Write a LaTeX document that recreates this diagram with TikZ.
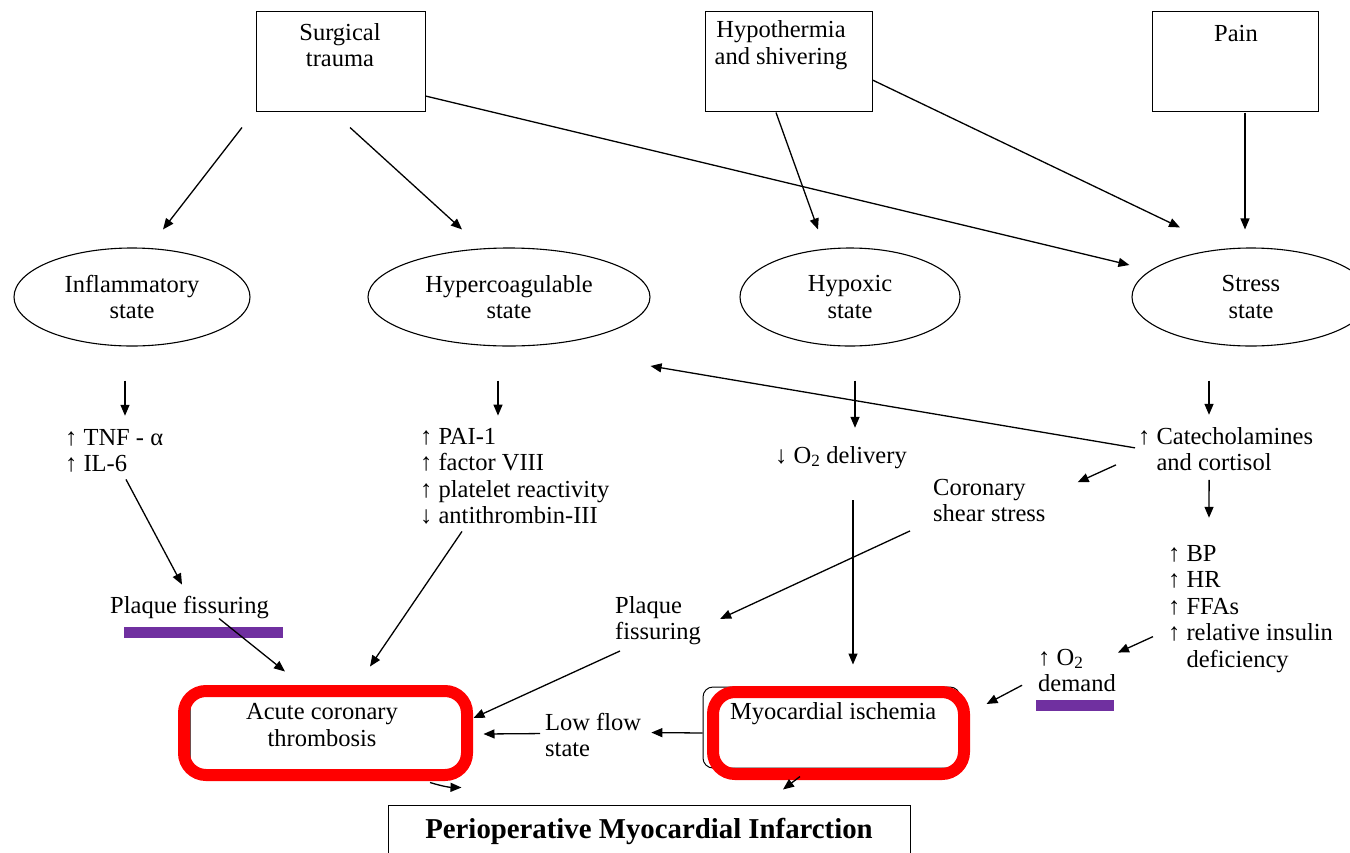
\documentclass[tikz,border=0pt]{standalone}
\usepackage{fontspec}
\setmainfont{Liberation Serif}
\usetikzlibrary{arrows.meta,shapes.geometric,calc}
\definecolor{hlred}{HTML}{FF0000}
\definecolor{hlpurple}{HTML}{7030A0}
\begin{document}
\begin{tikzpicture}[x=1pt,y=-1pt,
  every node/.style={font=\fontsize{24.5}{26.5}\selectfont, inner sep=0pt},
  arr/.style={-{Triangle[length=11pt,width=9pt]}, line width=1.3pt},
  topbox/.style={draw, line width=1pt, minimum height=100pt},
  state/.style={ellipse, draw, line width=1.1pt, minimum height=98pt, align=center},
  lst/.style={anchor=base west, align=left},
  ctr/.style={align=center},
  thinbox/.style={draw, line width=1pt, rounded corners=10pt},
  redbox/.style={draw=hlred, line width=12pt, rounded corners=22pt},
  bar/.style={fill=hlpurple, draw=none}
  ]
\useasboundingbox (0,0) rectangle (1350,852);

% top boxes
\node[topbox, minimum width=169pt] (st) at (340.5,61) {};
\node[ctr] (stt) at (340,45) {Surgical\\trauma};
\node[topbox, minimum width=167pt] (hyp) at (788.5,61) {};
\node[ctr] (hypt) at (781,45) {Hypothermia\\and shivering};
\node[topbox, minimum width=166pt] (pain) at (1235,61) {};
\node (paint) at (1236,34) {Pain};

% states
\node[state, minimum width=236pt] (inf) at (132,297) {Inflammatory\\state};
\node[state, minimum width=282pt] (hc) at (509,297) {Hypercoagulable\\state};
\node[state, minimum width=220pt] (hx) at (850,297) {Hypoxic\\state};
\node[state, minimum width=238pt] (ss) at (1251,297) {Stress\\state};

% texts (base = baseline of last line)
\node[lst] (tnf) at (65,471.5) {↑ TNF - α\\↑ IL-6};
\node[lst] (pai) at (420,523.5) {↑ PAI-1\\↑ factor VIII\\↑ platelet reactivity\\↓ antithrombin-III};
\node[lst] (o2d) at (775,463) {↓ O\textsubscript{2} delivery};
\node[lst] (cat) at (1138,470.5) {↑ Catecholamines\\\hphantom{↑ }and cortisol};
\node[lst] (css) at (933,521.5) {Coronary\\shear stress};
\node[lst] (bp) at (1168,667) {↑ BP\\↑ HR\\↑ FFAs\\↑ relative insulin\\\hphantom{↑ }deficiency};
\node[lst] (o2m) at (1038,691.5) {↑ O\textsubscript{2}\\demand};
\node[lst] (pf1) at (110,613) {Plaque fissuring};
\node[lst] (pf2) at (615,639.5) {Plaque\\fissuring};
\node[lst] (lf) at (545,756.5) {Low flow\\state};

% purple bars
\fill[bar] (124,627) rectangle (283,638);
\fill[bar] (1036,700) rectangle (1114,711);

% outcome boxes
\node[thinbox, minimum width=272pt, minimum height=75pt] (acb) at (326,732.5) {};
\node[thinbox, minimum width=257pt, minimum height=81pt] (mi) at (831.5,727.5) {};
\draw[redbox] (184,691) rectangle (467,775);
\draw[redbox] (713,692) rectangle (964,774);
\node[ctr] (acbt) at (322,725) {Acute coronary\\thrombosis};
\node[lst] (mit) at (730,719) {Myocardial ischemia};

\node[draw, line width=1pt, minimum width=522pt, minimum height=52pt,
      font=\fontsize{28.8}{32}\selectfont\bfseries] (pmi) at (649,831) {Perioperative Myocardial Infarction};

% arrows from top boxes
\draw[arr] ($(st.south)+(-98.5,16)$) -- ($(inf.north)+(31,-18)$);
\draw[arr] ($(st.south)+(9.5,16)$) -- ($(hc.north)+(-47,-18)$);
\draw[arr] ($(st.east)+(0,35)$) -- ($(ss.west)+(-2,-32)$);
\draw[arr] ($(hyp.south)+(-12.5,1)$) -- ($(hx.north)+(-32,-18)$);
\draw[arr] ($(hyp.east)+(0,19)$) -- ($(ss.north)+(-71,-20)$);
\draw[arr] ($(pain.south)+(10,1)$) -- ($(ss.north)+(-6,-18)$);

% down arrows from states
\draw[arr] ($(inf.south)+(-7,34)$) -- ($(tnf.north west)+(60,-13)$);
\draw[arr] ($(hc.south)+(-11,34)$) -- ($(pai.north west)+(78,-12)$);
\draw[arr] ($(hx.south)+(5,34)$) -- ($(o2d.north west)+(80,-18)$);
\draw[arr] ($(ss.south)+(-42,34)$) -- ($(cat.north west)+(71,-12)$);

% stress branch
\draw[arr] ($(cat.west)+(-3,-1)$) -- ($(hc.east)+(0,69)$);
\draw[arr] ($(cat.west)+(-22,16)$) -- ($(css.east)+(32,-18)$);
\draw[arr] ($(cat.south)+(-16.5,9)$) -- ($(bp.north west)+(41,-27)$);
\draw[arr] ($(bp.west)+(-15,28)$) -- ($(o2m.north east)+(2,4)$);
\draw[arr] ($(o2m.west)+(-16,15)$) -- ($(mi.east)+(26,-23.5)$);

% left branches
\draw[arr] ($(tnf.south west)+(61,7)$) -- ($(pf1.north west)+(72,-11)$);
\draw[arr] ($(pf1.south west)+(109,0)$) -- ($(acb.north)+(-41,-23)$);
\draw[arr] ($(pai.south west)+(42,7)$) -- ($(acb.north)+(44,-28)$);
\draw[arr] ($(css.south west)+(-23,9)$) -- ($(pf2.east)+(19,-1.5)$);
\draw[arr] ($(pf2.south west)+(5,6)$) -- ($(acb.east)+(11,-14.5)$);
\draw[arr] ($(o2d.south west)+(78,32)$) -- ($(mi.north)+(21.5,-22)$);
\draw[arr] ($(lf.north west)+(-5,21)$) -- ($(acb.east)+(21,1.5)$);
\draw[arr] ($(mi.west)+(0,5.5)$) -- ($(lf.north east)+(10,20)$);

% to PMI
\draw[arr] ($(acb.south)+(104,12)$) to[bend right=8] ($(pmi.north west)+(74,-17)$);
\draw[arr] ($(mi.south)+(-31.5,8)$) -- ($(pmi.north)+(134,-15)$);
\end{tikzpicture}
\end{document}
